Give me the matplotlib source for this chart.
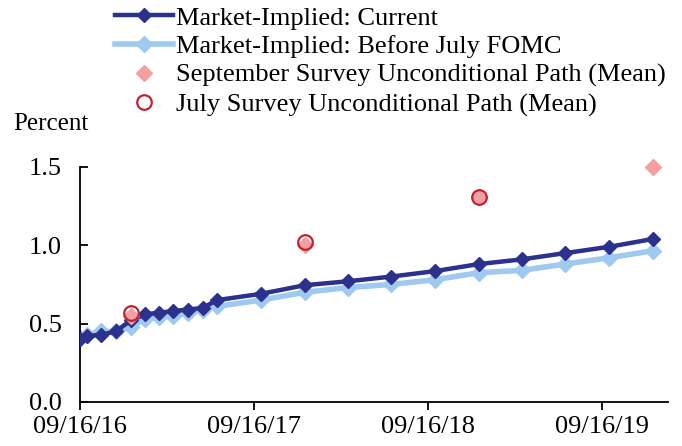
import matplotlib
matplotlib.use('Agg')
import matplotlib.pyplot as plt
import matplotlib.dates as mdates
import pandas as pd

plt.rcParams['font.family'] = ['Liberation Serif', 'DejaVu Serif']

# dates of the market-implied path: start, month-ends to mid 2017, then quarter-ends
path_dates = ['2016-09-16', '2016-09-30', '2016-10-31', '2016-11-30', '2016-12-31',
              '2017-01-31', '2017-02-28', '2017-03-31', '2017-04-30', '2017-05-31',
              '2017-06-30', '2017-09-30', '2017-12-31', '2018-03-31', '2018-06-30',
              '2018-09-30', '2018-12-31', '2019-03-31', '2019-06-30', '2019-09-30',
              '2019-12-31']
current = [0.40, 0.42, 0.43, 0.45, 0.52, 0.56, 0.57, 0.58, 0.59, 0.60,
           0.65, 0.69, 0.745, 0.77, 0.80, 0.835, 0.88, 0.91, 0.95, 0.99, 1.04]
before_july = [0.41, 0.43, 0.45, 0.45, 0.48, 0.53, 0.54, 0.55, 0.57, 0.59,
               0.61, 0.65, 0.70, 0.73, 0.75, 0.78, 0.825, 0.84, 0.88, 0.92, 0.965]

sept_dates = ['2016-12-31', '2017-12-31', '2018-12-31', '2019-12-31']
sept_survey = [0.55, 1.00, 1.31, 1.50]
july_dates = ['2016-12-31', '2017-12-31', '2018-12-31']
july_survey = [0.57, 1.02, 1.31]

tick_dates = ['2016-09-16', '2017-09-16', '2018-09-16', '2019-09-16']

navy = '#2b318c'
light = '#9fc9ee'
pink = '#f4a0a3'
red = '#c4202e'

fig = plt.figure(figsize=(6.82, 4.46), dpi=100)
ax = fig.add_axes([0.1173, 0.0987, 0.8622, 0.527])

x = pd.to_datetime(path_dates)
ax.plot(x, before_july, color=light, lw=4, marker='D', ms=8, mec=light,
        label='Market-Implied: Before July FOMC', zorder=2)
ax.plot(x, current, color=navy, lw=3.2, marker='D', ms=7, mec=navy,
        label='Market-Implied: Current', zorder=3)
ax.plot(pd.to_datetime(sept_dates), sept_survey, ls='none', marker='D', ms=8,
        color=pink, mec=pink, label='September Survey Unconditional Path (Mean)',
        zorder=4, clip_on=False)
ax.plot(pd.to_datetime(july_dates), july_survey, ls='none', marker='o', ms=10.5,
        mfc='none', mec=red, mew=1.6, label='July Survey Unconditional Path (Mean)',
        zorder=5, clip_on=False)

ax.set_xlim(pd.Timestamp('2016-09-16'), pd.Timestamp('2020-02-01'))
ax.set_ylim(0, 1.5)
ax.set_yticks([0.0, 0.5, 1.0, 1.5])
ax.yaxis.set_major_formatter(plt.FormatStrFormatter('%.1f'))
ax.set_xticks(pd.to_datetime(tick_dates))
ax.xaxis.set_major_formatter(mdates.DateFormatter('%m/%d/%y'))

for s in ['top', 'right']:
    ax.spines[s].set_visible(False)
ax.spines['left'].set_linewidth(1.3)
ax.spines['bottom'].set_linewidth(1.3)
ax.tick_params(axis='y', direction='in', length=6, width=1.3, pad=13, labelsize=19)
ax.tick_params(axis='x', direction='out', length=6, width=1.3, pad=4, labelsize=19)

fig.text(0.019, 0.722, 'Percent', fontsize=18, va='center')

handles, labels = ax.get_legend_handles_labels()
order = [1, 0, 2, 3]
fig.legend([handles[i] for i in order], [labels[i] for i in order],
           loc='upper left', bbox_to_anchor=(0.153, 1.01), frameon=False,
           fontsize=19, numpoints=1, handlelength=2.2, handletextpad=0.1,
           labelspacing=0.2, borderaxespad=0)

fig.savefig('out.png', dpi=100)
